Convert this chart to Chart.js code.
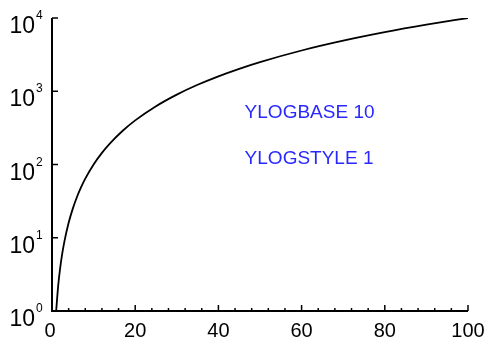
<!DOCTYPE html>
<html>
<head>
<meta charset="utf-8">
<script src="https://cdn.jsdelivr.net/npm/chart.js@4"></script>
<style>
  html, body { margin: 0; padding: 0; background: #fff; }
  canvas { display: block; }
</style>
</head>
<body>
<canvas id="chartLog" width="485" height="344"></canvas>
<script>
// values
const xValues = [1, 1.5, 2, 2.5, 3, 4, 5, 6, 7, 8, 10, 12, 14, 17, 20, 25, 30, 35, 40, 45, 50, 60, 70, 80, 90, 100];
const yValues = [1, 2.25, 4, 6.25, 9, 16, 25, 36, 49, 64, 100, 144, 196, 289, 400, 625, 900, 1225, 1600, 2025, 2500, 3600, 4900, 6400, 8100, 10000];
const xTickLabels = [0, 20, 40, 60, 80, 100];
const xMinorTicks = [4, 8, 12, 16, 24, 28, 32, 36, 44, 48, 52, 56, 64, 68, 72, 76, 84, 88, 92, 96];
const yTickValues = [1, 10, 100, 1000, 10000];
const yTickExponents = ['0', '1', '2', '3', '4'];
const notes = ['YLOGBASE 10', 'YLOGSTYLE 1'];
const notePos = [{ x: 46.3, y: 430 }, { x: 46.3, y: 102 }];

const points = xValues.map((x, i) => ({ x: x, y: yValues[i] }));

const axesPlugin = {
    id: 'axesPlugin',
    afterDraw(chart) {
        const ctx = chart.ctx;
        const xs = chart.scales.x;
        const ys = chart.scales.y;
        const area = chart.chartArea;
        ctx.save();
        ctx.strokeStyle = '#000';
        ctx.fillStyle = '#000';

        // axis lines
        ctx.lineWidth = 2;
        ctx.beginPath();
        ctx.moveTo(area.left, area.top);
        ctx.lineTo(area.left, area.bottom);
        ctx.lineTo(area.right, area.bottom);
        ctx.stroke();

        // y ticks (inside) and labels 10^n
        ctx.lineWidth = 1.5;
        yTickValues.forEach((v, i) => {
            const py = ys.getPixelForValue(v);
            ctx.beginPath();
            ctx.moveTo(area.left, py);
            ctx.lineTo(area.left + 6, py);
            ctx.stroke();

            ctx.font = '23px "Liberation Sans", Arial, sans-serif';
            ctx.textAlign = 'right';
            ctx.textBaseline = 'alphabetic';
            ctx.fillText('10', 35, py + 15);
            ctx.font = '12px "Liberation Sans", Arial, sans-serif';
            ctx.textAlign = 'left';
            ctx.fillText(yTickExponents[i], 36, py + 1);
        });

        // x ticks (inside) and labels
        xTickLabels.forEach(v => {
            const px = xs.getPixelForValue(v);
            ctx.beginPath();
            ctx.moveTo(px, area.bottom);
            ctx.lineTo(px, area.bottom - 6);
            ctx.stroke();

            ctx.font = '20px "Liberation Sans", Arial, sans-serif';
            ctx.textAlign = 'center';
            ctx.textBaseline = 'alphabetic';
            ctx.fillText(String(v), v === 0 ? px - 2 : px, 337);
        });
        xMinorTicks.forEach(v => {
            const px = xs.getPixelForValue(v);
            ctx.beginPath();
            ctx.moveTo(px, area.bottom);
            ctx.lineTo(px, area.bottom - 3);
            ctx.stroke();
        });

        // notes
        ctx.fillStyle = 'rgb(40, 40, 255)';
        ctx.font = '19px "Liberation Sans", Arial, sans-serif';
        ctx.textAlign = 'left';
        ctx.textBaseline = 'alphabetic';
        notes.forEach((t, i) => {
            ctx.fillText(t, xs.getPixelForValue(notePos[i].x), ys.getPixelForValue(notePos[i].y));
        });
        ctx.restore();
    }
};

const ctx = document.getElementById('chartLog').getContext('2d');
const chartLog = new Chart(ctx, {
    type: 'scatter',
    data: {
        datasets: [{
            data: points,
            showLine: true,
            borderColor: '#000',
            borderWidth: 1.8,
            pointRadius: 0,
            cubicInterpolationMode: 'monotone',
            fill: false
        }]
    },
    options: {
        responsive: false,
        animation: false,
        devicePixelRatio: 1,
        layout: {
            padding: { left: 52, right: 17, top: 18, bottom: 33 }
        },
        plugins: {
            legend: { display: false },
            tooltip: { enabled: false }
        },
        scales: {
            x: {
                type: 'linear',
                display: false,
                min: 0,
                max: 100
            },
            y: {
                type: 'logarithmic',
                display: false,
                min: 1,
                max: 10000
            }
        }
    },
    plugins: [axesPlugin]
});
</script>
</body>
</html>
